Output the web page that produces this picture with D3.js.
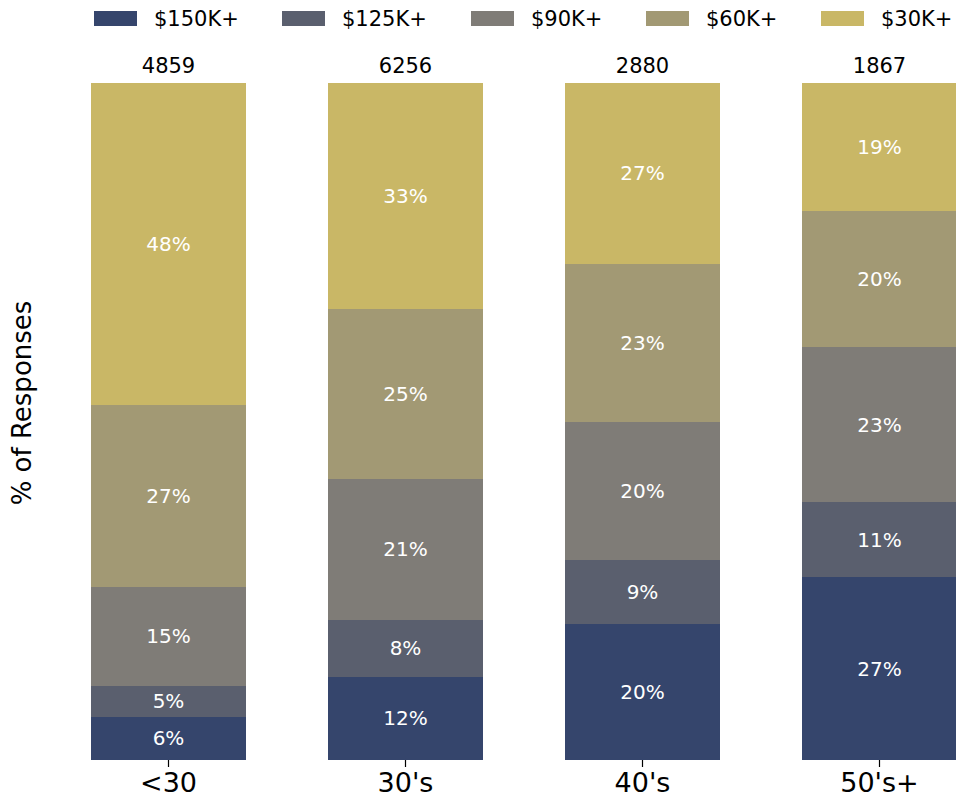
<!DOCTYPE html>
<html>
<head>
<meta charset="utf-8">
<script src="https://cdn.jsdelivr.net/npm/d3@7"></script>
<style>
  body { margin: 0; background: #fff; }
  svg { font-family: "DejaVu Sans", sans-serif; }
</style>
</head>
<body>
<script>
// Chart data
var ageGroups = ["<30", "30's", "40's", "50's+"];
var totals = [4859, 6256, 2880, 1867];
var incomeBands = ["$150K+", "$125K+", "$90K+", "$60K+", "$30K+"];
var colors = ["#35456c", "#5a5f6e", "#7f7c77", "#a29974", "#c9b766"];

// share of responses per band, one array per income band (% of age group)
var share150 = [6.4, 12.3, 20.1, 27.0];
var share125 = [4.6, 8.4, 9.4, 11.1];
var share90 = [14.5, 20.8, 20.4, 22.9];
var share60 = [26.9, 25.1, 23.4, 20.1];
var share30 = [47.6, 33.4, 26.7, 18.9];

var w = 956, h = 803;
var plotTop = 83, plotBottom = 760;

var svg = d3.select("body").append("svg")
    .attr("width", w)
    .attr("height", h);

// build rows for stacking
var rows = ageGroups.map(function(g, i) {
    return {
        group: g,
        "$150K+": share150[i],
        "$125K+": share125[i],
        "$90K+": share90[i],
        "$60K+": share60[i],
        "$30K+": share30[i]
    };
});

var stack = d3.stack().keys(incomeBands);
var series = stack(rows);

var x = d3.scaleBand()
    .domain(ageGroups)
    .range([50, 998])
    .paddingInner(0.346)
    .paddingOuter(0.173);

var y = d3.scaleLinear()
    .domain([0, 100])
    .range([plotBottom, plotTop]);

var color = d3.scaleOrdinal().domain(incomeBands).range(colors);

// bars
var layers = svg.selectAll("g.layer")
    .data(series)
    .enter().append("g")
    .attr("class", "layer")
    .attr("fill", function(d) { return color(d.key); });

layers.selectAll("rect")
    .data(function(d) { return d; })
    .enter().append("rect")
    .attr("x", function(d) { return x(d.data.group); })
    .attr("y", function(d) { return y(d[1]); })
    .attr("width", x.bandwidth())
    .attr("height", function(d) { return y(d[0]) - y(d[1]); })
    .attr("shape-rendering", "crispEdges");

// percentage labels inside segments
layers.selectAll("text")
    .data(function(d) { return d; })
    .enter().append("text")
    .attr("x", function(d) { return x(d.data.group) + x.bandwidth() / 2; })
    .attr("y", function(d) { return (y(d[0]) + y(d[1])) / 2; })
    .attr("dy", "0.35em")
    .attr("text-anchor", "middle")
    .attr("fill", "white")
    .style("font-size", "20px")
    .text(function(d) { return Math.round(d[1] - d[0]) + "%"; });

// totals above bars
svg.selectAll("text.total")
    .data(totals)
    .enter().append("text")
    .attr("class", "total")
    .attr("x", function(d, i) { return x(ageGroups[i]) + x.bandwidth() / 2; })
    .attr("y", 73)
    .attr("text-anchor", "middle")
    .attr("fill", "black")
    .style("font-size", "21px")
    .text(function(d) { return d; });

// x axis
var xAxis = svg.append("g")
    .attr("transform", "translate(0," + plotBottom + ")")
    .call(d3.axisBottom(x).tickSize(7).tickPadding(6));
xAxis.select(".domain").remove();
xAxis.selectAll(".tick line").attr("stroke", "black").attr("stroke-width", 1.2);
xAxis.selectAll(".tick text")
    .attr("fill", "black")
    .style("font-size", "27px")
    .style("font-family", "DejaVu Sans, sans-serif");

// y label
svg.append("text")
    .attr("transform", "translate(31,403) rotate(-90)")
    .attr("text-anchor", "middle")
    .attr("fill", "black")
    .style("font-size", "26px")
    .text("% of Responses");

// legend
var legendX = [94, 282, 471, 646, 821];
var legend = svg.selectAll("g.legend")
    .data(incomeBands)
    .enter().append("g")
    .attr("class", "legend")
    .attr("transform", function(d, i) { return "translate(" + legendX[i] + ",11)"; });

legend.append("rect")
    .attr("width", 43)
    .attr("height", 15)
    .attr("fill", function(d) { return color(d); });

legend.append("text")
    .attr("x", 60)
    .attr("y", 7.5)
    .attr("dy", "0.35em")
    .attr("fill", "black")
    .style("font-size", "21px")
    .text(function(d) { return d; });
</script>
</body>
</html>
